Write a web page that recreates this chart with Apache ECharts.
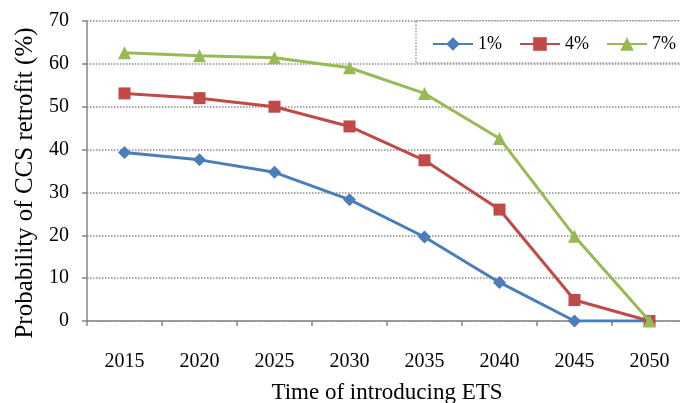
<!DOCTYPE html>
<html>
<head>
<meta charset="utf-8">
<script src="https://cdn.jsdelivr.net/npm/echarts@6/dist/echarts.min.js"></script>
<style>
html,body{margin:0;padding:0;background:#fff;}
#chart{width:680px;height:403px;}
</style>
</head>
<body>
<div id="chart"></div>
<script>
const categories = ['2015','2020','2025','2030','2035','2040','2045','2050'];
const seriesNames = ['1%','4%','7%'];
const values1 = [39.3, 37.6, 34.7, 28.3, 19.6, 9.0, 0, 0];
const values4 = [53.1, 52.0, 50.0, 45.4, 37.5, 26.0, 4.9, 0];
const values7 = [62.6, 61.9, 61.4, 59.1, 53.1, 42.6, 19.8, 0];
const yTicks = {min: 0, max: 70, interval: 10};

const FONT = "'Liberation Serif','Times New Roman',serif";
const colors = ['#4A7EBB', '#BE4B48', '#98B954'];
const symbols = ['diamond', 'rect', 'triangle'];
const sizes = [13, 12, 13];
const allValues = [values1, values4, values7];

const chart = echarts.init(document.getElementById('chart'), null, {renderer: 'canvas'});
chart.setOption({
  animation: false,
  backgroundColor: '#fff',
  grid: {left: 87, right: -7, top: 21, bottom: 82, containLabel: false, outerBoundsMode: 'none'},
  graphic: [{
    type: 'rect', z: 5,
    shape: {x: 416, y: 21, width: 280, height: 42},
    style: {fill: '#fff', stroke: '#A0A0A0', lineWidth: 1.5, lineDash: [1.5, 1.5]}
  }],
  legend: {
    z: 10,
    orient: 'horizontal',
    left: 432, top: 35, width: 300, padding: 0,
    itemWidth: 40, itemHeight: 17, itemGap: 17,
    textStyle: {fontFamily: FONT, fontSize: 18, color: '#000'},
    data: seriesNames
  },
  xAxis: {
    type: 'category',
    data: categories,
    boundaryGap: true,
    name: 'Time of introducing ETS',
    nameLocation: 'middle',
    nameGap: 60,
    nameTextStyle: {fontFamily: FONT, fontSize: 23, color: '#000'},
    axisLine: {lineStyle: {color: '#868686', width: 1.5}},
    axisTick: {show: true, length: 5, lineStyle: {color: '#868686', width: 1.5}},
    axisLabel: {fontFamily: FONT, fontSize: 20, color: '#000', margin: 31}
  },
  yAxis: {
    type: 'value',
    min: yTicks.min, max: yTicks.max, interval: yTicks.interval,
    name: 'Probability of CCS retrofit (%)',
    nameLocation: 'middle',
    nameGap: 49,
    nameRotate: 90,
    nameTextStyle: {fontFamily: FONT, fontSize: 25, color: '#000', padding: [0, 24, 0, 0]},
    axisLine: {show: true, lineStyle: {color: '#868686', width: 1.5}},
    axisTick: {show: true, length: 5, lineStyle: {color: '#868686', width: 1.5}},
    axisLabel: {fontFamily: FONT, fontSize: 20, color: '#000', margin: 18},
    splitLine: {show: true, lineStyle: {color: '#8C8C8C', width: 1.5, type: [1.5, 1.5]}}
  },
  series: seriesNames.map((n, i) => ({
    name: n,
    type: 'line',
    data: allValues[i],
    symbol: symbols[i],
    symbolSize: sizes[i],
    showAllSymbol: true,
    itemStyle: {color: colors[i]},
    lineStyle: {color: colors[i], width: 3},
    z: 3 + i
  }))
});
</script>
</body>
</html>
